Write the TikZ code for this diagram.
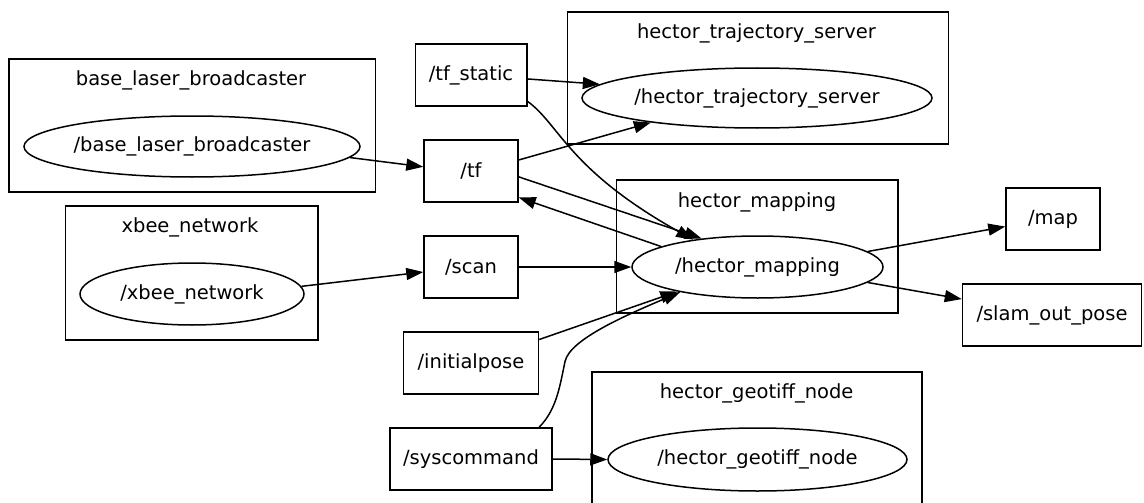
\documentclass[tikz,border=0pt]{standalone}
\usepackage{fontspec}
\setmainfont{DejaVu Sans}
\usetikzlibrary{shapes.geometric,arrows.meta}
\begin{document}
\begin{tikzpicture}[x=1pt,y=-1pt,
  lw/.style={line width=1.5pt},
  topic/.style={draw,lw,rectangle,inner sep=0pt,minimum width=#1,minimum height=62pt},
  cluster/.style={draw,lw,rectangle,inner sep=0pt},
  ell/.style={draw,lw,ellipse,inner sep=0pt},
  ttl/.style={inner sep=0pt},
  conn/.style={lw,-{Triangle[length=17pt,width=12pt]}},
  font=\fontsize{19.5}{23}\selectfont]
\fill[white] (0,0) rectangle (1144,503);
\clip (0,0) rectangle (1144,503);
% clusters
\node[cluster,minimum width=366.5pt,minimum height=133pt] (cbase) at (192.25,125.5) {};
\node[ttl] (tbase) at (191,80) {base\_laser\_broadcaster};
\node[ell,minimum width=336pt,minimum height=61pt] (base) at (192,146.5) {\makebox[0pt]{/base\_laser\_broadcaster}};

\node[cluster,minimum width=252.5pt,minimum height=134pt] (cxbee) at (191.75,273) {};
\node[ttl] (txbee) at (190,227) {xbee\_network};
\node[ell,minimum width=224pt,minimum height=62pt] (xbee) at (192,294) {\makebox[0pt]{/xbee\_network}};

\node[cluster,minimum width=381pt,minimum height=132pt] (ctraj) at (758,78) {};
\node[ttl] (ttraj) at (756.5,33) {hector\_trajectory\_server};
\node[ell,minimum width=350pt,minimum height=60pt] (traj) at (757,98) {\makebox[0pt]{/hector\_trajectory\_server}};

\node[cluster,minimum width=281.4pt,minimum height=133pt] (cmapping) at (757.3,246.5) {};
\node[ttl] (tmapping) at (757,202) {hector\_mapping};
\node[ell,minimum width=251pt,minimum height=62pt] (mapping) at (757.5,267) {\makebox[0pt]{/hector\_mapping}};

\node[cluster,minimum width=330pt,minimum height=148pt] (cgeo) at (757,446) {};
\node[ttl] (tgeo) at (756.6,393) {hector\_geotiff\_node};
\node[ell,minimum width=299pt,minimum height=63pt] (geotiff) at (757.5,459.5) {\makebox[0pt]{/hector\_geotiff\_node}};

% topics
\node[topic=111.5pt] (tfstatic) at (471,75) {/tf\_static};
\node[topic=94pt] (tf) at (471,171) {/tf};
\node[topic=94pt] (scan) at (471,267) {/scan};
\node[topic=135pt] (initialpose) at (471,363) {/initialpose};
\node[topic=162pt] (syscommand) at (471,459) {/syscommand};
\node[topic=94pt] (map) at (1053,219) {/map};
\node[topic=179pt] (slam) at (1052,315) {/slam\_out\_pose};

% connectors
\draw[conn] (base.-4.7) -- (tf.175.1);
\draw[conn] (xbee.4.3) -- (scan.186);
\draw[conn] (tfstatic.-4.1) -- (traj.175.6);
\draw[conn] (tf.13.2) -- (traj.193.5);
\draw[conn] (tfstatic.-25.8) .. controls +(32,23) and +(-125,-70) .. (mapping.157);
\draw[conn] (tf.-7.3) -- (mapping.153);
\draw[conn] (mapping.168.7) -- (tf.-29);
\draw[conn] (scan.east) -- (mapping.west);
\draw[conn] (initialpose.19.6) -- (mapping.197.5);
\draw[conn] (syscommand.25.2) .. controls +(18,-18) and +(-5,23) .. ++(26,-66) .. controls +(5,-22) and +(-54,23) .. (mapping.198.5);
\draw[conn] (syscommand.east) -- (geotiff.west);
\draw[conn] (mapping.8.5) -- (map.189.7);
\draw[conn] (mapping.-8.5) -- (slam.170.5);
\end{tikzpicture}
\end{document}
